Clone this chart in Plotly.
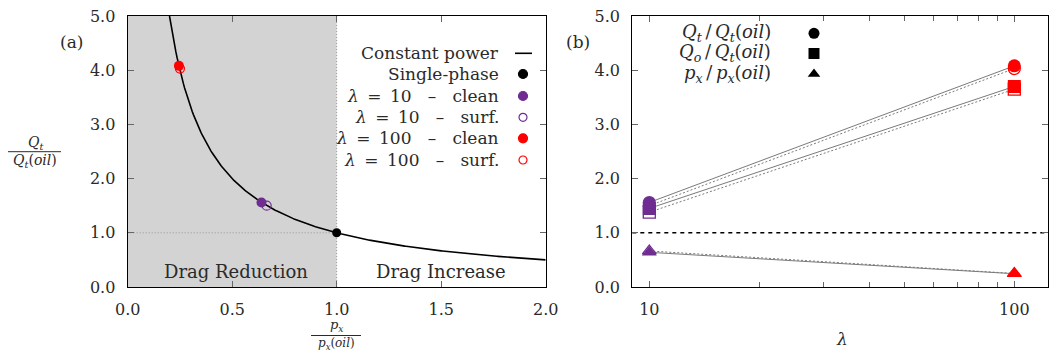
import numpy as np
import plotly.graph_objects as go

# ---------------- data ----------------
# panel (a): pressure gradient ratio vs flow-rate ratio
single_px = [1.0]
single_qt = [1.0]
lam10_clean_px = [0.64]
lam10_clean_qt = [1.56]
lam10_surf_px = [0.665]
lam10_surf_qt = [1.50]
lam100_clean_px = [0.245]
lam100_clean_qt = [4.08]
lam100_surf_px = [0.25]
lam100_surf_qt = [4.03]

# constant power curve: Q_t/Q_t(oil) = 1 / (p_x/p_x(oil))
curve_px = np.linspace(0.2, 2.0, 300)
curve_qt = 1.0 / curve_px

# panel (b): ratios vs viscosity ratio lambda
lam = [10, 100]
qt_clean = [1.56, 4.08]
qt_surf = [1.50, 4.03]
qo_clean = [1.45, 3.70]
qo_surf = [1.38, 3.65]
px_clean = [0.64, 0.245]
px_surf = [0.665, 0.25]

a_ticks = [0, 0.5, 1.0, 1.5, 2.0]
a_ticktext = ["0.0", "0.5", "1.0", "1.5", "2.0"]
y_ticks = [0, 1, 2, 3, 4, 5]
y_ticktext = ["0.0", "1.0", "2.0", "3.0", "4.0", "5.0"]
b_ticks = [10, 100]
b_ticktext = ["10", "100"]
b_minor = [20, 30, 40, 50, 60, 70, 80, 90]

# ---------------- style ----------------
W, H = 1049, 354
FONT = "DejaVu Serif"
TXT = "#2a2a2a"
PURPLE = "#6f2c91"
RED = "#ff0000"
GRAY = "#7a7a7a"
TICKFS = 16
LEGFS = 17


def px_x(x):
    return x / W


def px_y(y):
    return 1 - y / H


fig = go.Figure()

# ---------- panel (a) ----------
fig.add_trace(go.Scatter(x=curve_px, y=curve_qt, mode="lines",
                         line=dict(color="black", width=1.6),
                         xaxis="x", yaxis="y", hoverinfo="skip"))
fig.add_trace(go.Scatter(x=single_px, y=single_qt, mode="markers",
                         marker=dict(color="black", size=9),
                         xaxis="x", yaxis="y"))
fig.add_trace(go.Scatter(x=lam10_clean_px, y=lam10_clean_qt, mode="markers",
                         marker=dict(color=PURPLE, size=10),
                         xaxis="x", yaxis="y"))
fig.add_trace(go.Scatter(x=lam10_surf_px, y=lam10_surf_qt, mode="markers",
                         marker=dict(symbol="circle-open", color=PURPLE, size=9,
                                     line=dict(width=1.2)),
                         xaxis="x", yaxis="y"))
fig.add_trace(go.Scatter(x=lam100_clean_px, y=lam100_clean_qt, mode="markers",
                         marker=dict(color=RED, size=10),
                         xaxis="x", yaxis="y"))
fig.add_trace(go.Scatter(x=lam100_surf_px, y=lam100_surf_qt, mode="markers",
                         marker=dict(symbol="circle-open", color=RED, size=9,
                                     line=dict(width=1.2)),
                         xaxis="x", yaxis="y"))

# ---------- panel (b) ----------
for ys, dash in [(qt_clean, "solid"), (qt_surf, "2px,2px"),
                 (qo_clean, "solid"), (qo_surf, "2px,2px"),
                 (px_clean, "solid"), (px_surf, "2px,2px")]:
    fig.add_trace(go.Scatter(x=lam, y=ys, mode="lines",
                             line=dict(color=GRAY, width=1, dash=dash),
                             xaxis="x2", yaxis="y2", hoverinfo="skip"))

colors_b = [PURPLE, RED]
for ys, sym in [(qo_surf, "square-open"), (qt_surf, "circle-open"), (px_surf, "triangle-up-open")]:
    fig.add_trace(go.Scatter(x=lam, y=ys, mode="markers",
                             marker=dict(symbol=sym, color=colors_b, size=12,
                                         line=dict(width=1.3, color=colors_b)),
                             xaxis="x2", yaxis="y2"))
for ys, sym in [(qo_clean, "square"), (qt_clean, "circle"), (px_clean, "triangle-up")]:
    fig.add_trace(go.Scatter(x=lam, y=ys, mode="markers",
                             marker=dict(symbol=sym, color=colors_b, size=13),
                             xaxis="x2", yaxis="y2"))

# ---------- legend keys (overlay axis in pixel units) ----------
LEG_A_SYM_X = 523
LEG_A_ROWS = [53.3, 74, 96, 117.3, 138.3, 160]
fig.add_trace(go.Scatter(x=[515, 532], y=[LEG_A_ROWS[0]] * 2, mode="lines",
                         line=dict(color="black", width=1.6),
                         xaxis="x3", yaxis="y3", hoverinfo="skip"))
leg_a_markers = [("circle", "black", 9), ("circle", PURPLE, 9),
                 ("circle-open", PURPLE, 8), ("circle", RED, 9),
                 ("circle-open", RED, 8)]
for (sym, col, sz), yy in zip(leg_a_markers, LEG_A_ROWS[1:]):
    fig.add_trace(go.Scatter(x=[LEG_A_SYM_X], y=[yy], mode="markers",
                             marker=dict(symbol=sym, color=col, size=sz,
                                         line=dict(width=1.2, color=col)),
                             xaxis="x3", yaxis="y3", hoverinfo="skip"))

LEG_B_SYM_X = 814
LEG_B_ROWS = [33.3, 53.5, 74]
for sym, yy in zip(["circle", "square", "triangle-up"], LEG_B_ROWS):
    fig.add_trace(go.Scatter(x=[LEG_B_SYM_X], y=[yy], mode="markers",
                             marker=dict(symbol=sym, color="black", size=11),
                             xaxis="x3", yaxis="y3", hoverinfo="skip"))

# ---------- axes ----------
dom_y = [px_y(287), px_y(16)]
common = dict(showline=True, linecolor="black", linewidth=1.2, mirror="ticks",
              ticks="inside", ticklen=6, tickwidth=1, tickcolor="#666",
              showgrid=False, zeroline=False, automargin=False,
              ticklabelstandoff=8,
              tickfont=dict(family=FONT, size=TICKFS, color=TXT))

fig.update_layout(
    width=W, height=H, margin=dict(l=0, r=0, t=0, b=0, pad=0, autoexpand=False),
    paper_bgcolor="white", plot_bgcolor="rgba(0,0,0,0)",
    showlegend=False,
    font=dict(family=FONT, color=TXT),
    xaxis=dict(domain=[px_x(127.7), px_x(545.7)], range=[0, 2],
               tickmode="array", tickvals=a_ticks, ticktext=a_ticktext,
               anchor="y", **common),
    yaxis=dict(domain=dom_y, range=[0, 5], tickmode="array",
               tickvals=y_ticks, ticktext=y_ticktext,
               anchor="x", **common),
    xaxis2=dict(domain=[px_x(632.3), px_x(1048)], type="log",
                range=[0.9534, 2.0923], tickmode="array", tickvals=b_ticks,
                ticktext=b_ticktext, anchor="y2",
                minor=dict(tickmode="array", tickvals=b_minor, ticks="inside",
                           ticklen=5, tickcolor="#666"),
                **common),
    xaxis4=dict(overlaying="x2", side="top", type="log", anchor="y2",
                range=[0.9534, 2.0923], tickmode="array", tickvals=b_ticks,
                showticklabels=False, ticks="inside", ticklen=6,
                tickcolor="#666", showgrid=False, zeroline=False,
                showline=False, automargin=False,
                minor=dict(tickmode="array", tickvals=b_minor, ticks="inside",
                           ticklen=5, tickcolor="#666")),
    yaxis2=dict(domain=dom_y, range=[0, 5], tickmode="array",
                tickvals=y_ticks, ticktext=y_ticktext,
                anchor="x2", **common),
    xaxis3=dict(domain=[0, 1], range=[0, W], visible=False, anchor="y3",
                automargin=False),
    yaxis3=dict(domain=[0, 1], range=[H, 0], visible=False, anchor="x3",
                automargin=False),
)

# ---------- shapes ----------
shapes = [
    dict(type="rect", xref="x", yref="y", x0=0, x1=1, y0=0, y1=5,
         fillcolor="#d3d3d3", line=dict(width=0), layer="below"),
    dict(type="line", xref="x", yref="y", x0=1, x1=1, y0=0, y1=5,
         line=dict(color="#888", width=0.8, dash="1px,2px"), layer="below"),
    dict(type="line", xref="x", yref="y", x0=0, x1=1, y0=1, y1=1,
         line=dict(color="#888", width=0.8, dash="1px,2px"), layer="below"),
    dict(type="line", xref="x2 domain", yref="y2", x0=0, x1=1, y0=1, y1=1,
         line=dict(color="black", width=1.5, dash="4px,4px"), layer="below"),
    # fraction bars
    dict(type="line", xref="paper", yref="paper", x0=px_x(8), x1=px_x(61),
         y0=px_y(151.7), y1=px_y(151.7), line=dict(color=TXT, width=1)),
    dict(type="line", xref="paper", yref="paper", x0=px_x(311), x1=px_x(361),
         y0=px_y(335.5), y1=px_y(335.5), line=dict(color=TXT, width=1)),
]
fig.update_layout(shapes=shapes)

# ---------- annotations ----------
ann = []


def add_text(x, y, text, size, xanchor="center", yanchor="middle"):
    ann.append(dict(xref="paper", yref="paper", x=px_x(x), y=px_y(y), text=text,
                    showarrow=False, xanchor=xanchor, yanchor=yanchor,
                    borderpad=0,
                    font=dict(family=FONT, size=size, color=TXT)))


NB = "\u00a0"
EN = "\u2002"
TH = "\u2009"
DASH = f"{NB}{NB}{NB}–{NB}{NB}{NB}"
leg_a_texts = [
    "Constant power",
    "Single-phase",
    f"<i>λ</i>{EN}={EN}10{DASH}clean",
    f"<i>λ</i>{EN}={EN}10{DASH}surf.",
    f"<i>λ</i>{EN}={EN}100{DASH}clean",
    f"<i>λ</i>{EN}={EN}100{DASH}surf.",
]
for t, yy in zip(leg_a_texts, LEG_A_ROWS):
    add_text(500, yy, t, LEGFS, xanchor="right")

leg_b_texts = [
    f"<i>Q</i><sub><i>t</i></sub>{TH}/{TH}<i>Q</i><sub><i>t</i></sub>(<i>oil</i>)",
    f"<i>Q</i><sub><i>o</i></sub>{TH}/{TH}<i>Q</i><sub><i>t</i></sub>(<i>oil</i>)",
    f"<i>p</i><sub><i>x</i></sub>{TH}/{TH}<i>p</i><sub><i>x</i></sub>(<i>oil</i>)",
]
for t, yy in zip(leg_b_texts, LEG_B_ROWS):
    add_text(772, yy, t, 18, xanchor="right")

add_text(71.7, 41.7, "(a)", 17)
add_text(577.7, 41.7, "(b)", 17)
add_text(236, 271, "Drag Reduction", 18)
add_text(441, 271, "Drag Increase", 18)

# y label fraction (a)
add_text(35, 143, "<i>Q</i><sub><i>t</i></sub>", 14)
add_text(35, 161, "<i>Q</i><sub><i>t</i></sub>(<i>oil</i>)", 14)
# x label fraction (a)
add_text(336, 334.5, "<i>p</i><sub><i>x</i></sub>", 13, yanchor="bottom")
add_text(336, 344, "<i>p</i><sub><i>x</i></sub>(<i>oil</i>)", 12)
# lambda label (b)
add_text(842, 339, "<i>λ</i>", 17)

fig.update_layout(annotations=ann)

fig.write_html("out.html")
